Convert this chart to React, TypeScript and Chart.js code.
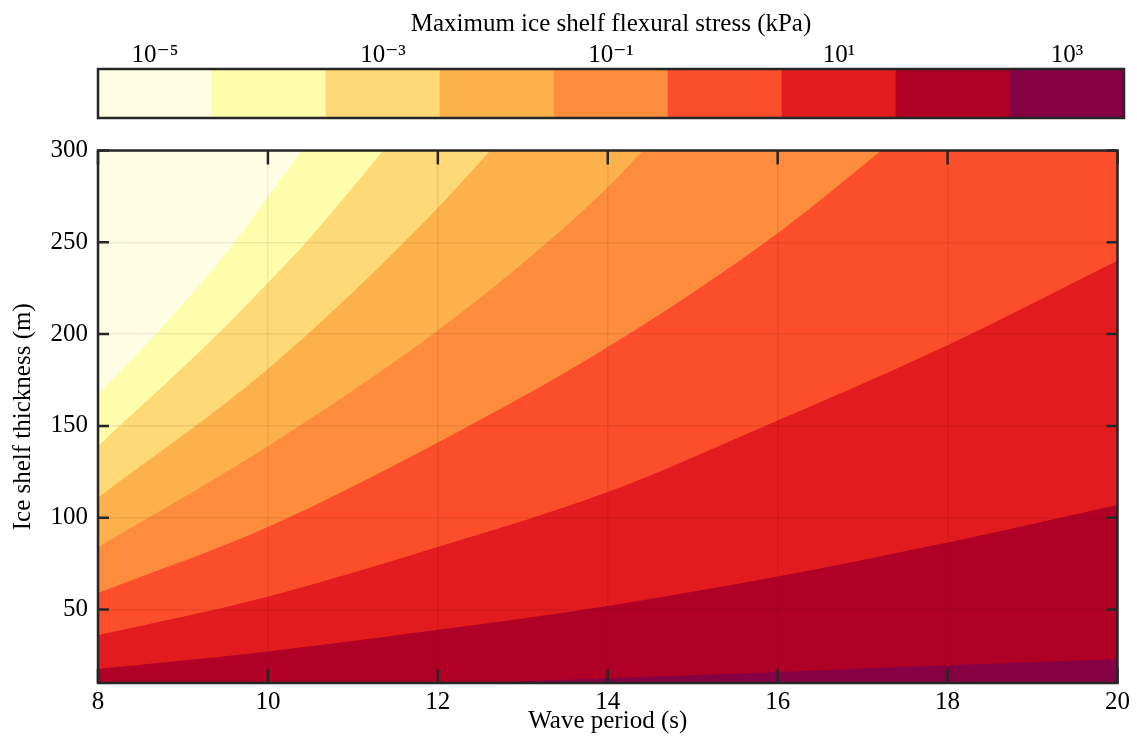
import React, { useEffect, useRef } from "react";
import { Chart, registerables } from "chart.js";

Chart.register(...registerables);

// ---- data ----
const stressExponents = [-5, -4, -3, -2, -1, 0, 1, 2, 3];
const levelColors = [
  "#fffee5",
  "#fdfdac",
  "#fed976",
  "#fdb14c",
  "#fd8c3c",
  "#fc4e2b",
  "#e21b1e",
  "#b10026",
  "#860044",
];
const periodTicks = [8, 10, 12, 14, 16, 18, 20];
const thicknessTicks = [50, 100, 150, 200, 250, 300];

// contour boundaries: [wave period (s), ice shelf thickness (m)]
const domainTop = [[8, 300], [20, 300]];
const contour1 = [[8, 167], [8.68, 200], [9.61, 250], [10, 275], [10.4, 300], [10.8, 325], [20, 325]];
const contour2 = [[8, 139], [9.41, 200], [10, 228], [10.45, 250], [11.36, 300], [11.8, 324], [20, 324]];
const contour3 = [[8, 111], [10, 181], [11.88, 263], [12.62, 300], [13.1, 324], [20, 324]];
const contour4 = [[8, 84], [10, 139], [12, 202], [13.29, 250], [14, 280], [14.42, 300], [15, 325], [20, 325]];
const contour5 = [[8, 59], [10, 95], [12, 141], [14, 193], [16, 255], [17.22, 300], [17.9, 326], [20, 326]];
const contour6 = [[8, 36], [10, 57], [12, 84], [14, 114], [16, 153], [18, 194], [20, 240]];
const contour7 = [[8, 17.7], [10, 27.2], [12, 39], [14, 52], [16, 68], [18, 86.5], [20, 107]];
const contour8 = [[12.4, 10], [14, 12.6], [16, 16], [18, 19.6], [20, 23]];

const boundaries = [domainTop, contour1, contour2, contour3, contour4, contour5, contour6, contour7, contour8];

const SUP: Record<string, string> = {
  "-": "\u207B", "0": "\u2070", "1": "\u00B9", "2": "\u00B2", "3": "\u00B3",
  "4": "\u2074", "5": "\u2075", "6": "\u2076", "7": "\u2077", "8": "\u2078", "9": "\u2079",
};
const sup = (n: number) => String(n).split("").map((c) => SUP[c] || c).join("");
const stressLabels = stressExponents.map((e) => "10" + sup(e));

const FONT = "'Liberation Serif', 'DejaVu Serif', serif";
const TEXT = "#000000";
const FRAME = "#262626";

const framePlugin = {
  id: "frameBox",
  afterDraw(chart: any) {
    const { ctx, chartArea: a } = chart;
    ctx.save();
    ctx.strokeStyle = FRAME;
    ctx.lineWidth = 2.5;
    ctx.strokeRect(a.left, a.top, a.right - a.left, a.bottom - a.top);
    ctx.restore();
  },
};

const inwardTicksPlugin = {
  id: "inwardTicks",
  afterDraw(chart: any) {
    const { ctx, chartArea: a, scales } = chart;
    ctx.save();
    ctx.strokeStyle = FRAME;
    ctx.lineWidth = 2.5;
    ctx.beginPath();
    for (const t of scales.x.ticks) {
      const px = scales.x.getPixelForValue(t.value);
      ctx.moveTo(px, a.bottom);
      ctx.lineTo(px, a.bottom - 14);
      ctx.moveTo(px, a.top);
      ctx.lineTo(px, a.top + 14);
    }
    for (const t of scales.y.ticks) {
      const py = scales.y.getPixelForValue(t.value);
      ctx.moveTo(a.left, py);
      ctx.lineTo(a.left + 11, py);
      ctx.moveTo(a.right, py);
      ctx.lineTo(a.right - 11, py);
    }
    ctx.stroke();
    ctx.restore();
  },
};

export default function App() {
  const cbRef = useRef<HTMLCanvasElement | null>(null);
  const mainRef = useRef<HTMLCanvasElement | null>(null);

  useEffect(() => {
    Chart.defaults.font.family = FONT;
    Chart.defaults.color = TEXT;

    const cb = new Chart(cbRef.current as HTMLCanvasElement, {
      type: "bar",
      data: {
        labels: stressLabels,
        datasets: [
          {
            data: stressExponents.map(() => 1),
            backgroundColor: levelColors,
            borderWidth: 0,
            barPercentage: 1,
            categoryPercentage: 1,
          },
        ],
      },
      options: {
        animation: false,
        responsive: true,
        maintainAspectRatio: false,
        layout: { padding: { left: 98, right: 13, top: 0, bottom: 10 } },
        plugins: { legend: { display: false }, tooltip: { enabled: false } },
        scales: {
          x: {
            position: "top",
            grid: { display: false, drawTicks: false },
            border: { display: false },
            ticks: {
              autoSkip: false,
              maxRotation: 0,
              padding: 1,
              color: TEXT,
              font: { size: 25, lineHeight: 1 },
              callback: (_v: any, i: number) => (i % 2 === 0 ? stressLabels[i] : ""),
            },
            title: {
              display: true,
              text: "Maximum ice shelf flexural stress (kPa)",
              color: TEXT,
              font: { size: 25 },
              padding: { top: 9, bottom: 0 },
            },
            afterFit: (s: any) => {
              s.height = 69;
            },
          },
          y: { display: false, min: 0, max: 1 },
        },
      } as any,
      plugins: [framePlugin],
    });

    const main = new Chart(mainRef.current as HTMLCanvasElement, {
      type: "line",
      data: {
        datasets: boundaries.map((pts, i) => ({
          data: pts.map(([x, y]) => ({ x, y })),
          backgroundColor: levelColors[i],
          borderColor: "rgba(0,0,0,0)",
          borderWidth: 0,
          pointRadius: 0,
          fill: "start",
          cubicInterpolationMode: "monotone",
          order: boundaries.length - i,
        })),
      },
      options: {
        animation: false,
        responsive: true,
        maintainAspectRatio: false,
        layout: { padding: { left: 0, right: 13, top: 21, bottom: 0 } },
        elements: { line: { capBezierPoints: false } },
        plugins: { legend: { display: false }, tooltip: { enabled: false } },
        scales: {
          x: {
            type: "linear",
            min: 8,
            max: 20,
            afterBuildTicks: (s: any) => {
              s.ticks = periodTicks.map((v) => ({ value: v }));
            },
            grid: { z: 1, color: "rgba(0,0,0,0.07)", lineWidth: 1.5, drawTicks: false },
            border: { display: false },
            ticks: { padding: 7, color: TEXT, maxRotation: 0, autoSkip: false, font: { size: 25, lineHeight: 1 } },
            title: {
              display: true,
              text: "Wave period (s)",
              color: TEXT,
              font: { size: 25 },
              padding: { top: 0, bottom: 0 },
            },
            afterFit: (s: any) => {
              s.height = 53;
            },
          },
          y: {
            type: "linear",
            min: 10,
            max: 300,
            afterBuildTicks: (s: any) => {
              s.ticks = thicknessTicks.map((v) => ({ value: v }));
            },
            grid: { z: 1, color: "rgba(0,0,0,0.07)", lineWidth: 1.5, drawTicks: false },
            border: { display: false },
            ticks: { padding: 10, color: TEXT, autoSkip: false, font: { size: 25, lineHeight: 1 } },
            title: {
              display: true,
              text: "Ice shelf thickness (m)",
              color: TEXT,
              font: { size: 25 },
              padding: { top: 8.5, bottom: 0 },
            },
            afterFit: (s: any) => {
              s.width = 98;
            },
          },
        },
      } as any,
      plugins: [framePlugin, inwardTicksPlugin],
    });

    return () => {
      cb.destroy();
      main.destroy();
    };
  }, []);

  return (
    <div style={{ position: "absolute", left: 0, top: 0, width: 1137, height: 736, background: "#fff" }}>
      <div style={{ position: "absolute", left: 0, top: 0, width: 1137, height: 128 }}>
        <canvas ref={cbRef} />
      </div>
      <div style={{ position: "absolute", left: 0, top: 128, width: 1137, height: 608 }}>
        <canvas ref={mainRef} />
      </div>
    </div>
  );
}
